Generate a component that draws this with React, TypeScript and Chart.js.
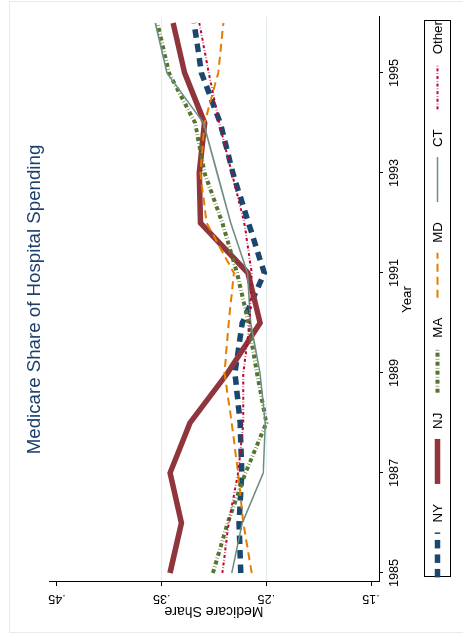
import React, { useEffect, useRef } from 'react';
import { Chart, registerables } from 'chart.js';

Chart.register(...registerables);

// ---------- data ----------
const years = [1985, 1986, 1987, 1988, 1989, 1990, 1991, 1992, 1993, 1994, 1995, 1996];
const seriesNames = ['NY', 'NJ', 'MA', 'MD', 'CT', 'Other'];
const nyShare = [0.2745, 0.276, 0.2735, 0.275, 0.28, 0.273, 0.252, 0.267, 0.282, 0.294, 0.312, 0.319];
const njShare = [0.342, 0.331, 0.342, 0.323, 0.287, 0.256, 0.2675, 0.313, 0.314, 0.309, 0.328, 0.339];
const maShare = [0.301, 0.287, 0.27, 0.25, 0.259, 0.267, 0.278, 0.292, 0.309, 0.318, 0.343, 0.354];
const mdShare = [0.264, 0.272, 0.277, 0.283, 0.29, 0.286, 0.281, 0.307, 0.313, 0.309, 0.296, 0.291];
const ctShare = [0.283, 0.273, 0.253, 0.251, 0.256, 0.265, 0.268, 0.284, 0.297, 0.31, 0.345, 0.356];
const otherShare = [0.292, 0.286, 0.277, 0.272, 0.272, 0.266, 0.264, 0.271, 0.283, 0.295, 0.305, 0.314];
const seriesValues = [nyShare, njShare, maShare, mdShare, ctShare, otherShare];

const yearTicks = [1985, 1987, 1989, 1991, 1993, 1995];
const shareTicks = [0.15, 0.25, 0.35, 0.45];
const shareTickLabels = ['.15', '.25', '.35', '.45'];
const shareGridValues = [0.25, 0.35];

const titleText = 'Medicare Share of Hospital Spending';
const xTitle = 'Year';
const yTitle = 'Medicare Share';

// ---------- styles ----------
const FONT = '"Liberation Sans", Arial, Helvetica, sans-serif';
const lineStyles = [
  { color: '#1a476f', width: 5.5, dash: [8.5, 6] },
  { color: '#90353b', width: 5.5, dash: [] as number[] },
  { color: '#55752f', width: 4, dash: [4, 2.2, 0.6, 2.2] },
  { color: '#e37e00', width: 2, dash: [8, 5] },
  { color: '#6e8e84', width: 1.6, dash: [] as number[] },
  { color: '#c10534', width: 2, dash: [3, 2, 0.6, 2] },
];

const decorPlugin = {
  id: 'decor',
  beforeDraw(chart: any) {
    const { ctx, width, height } = chart;
    ctx.save();
    ctx.fillStyle = '#ffffff';
    ctx.fillRect(0, 0, width, height);
    ctx.strokeStyle = '#e4ecef';
    ctx.lineWidth = 1;
    ctx.strokeRect(3.5, 9.5, 631, 470);
    ctx.restore();
  },
  afterDraw(chart: any) {
    const { ctx } = chart;
    const ca = chart.chartArea;
    const yScale = chart.scales.y;
    ctx.save();
    // rotated y tick labels
    ctx.font = `12.7px ${FONT}`;
    ctx.fillStyle = '#000';
    ctx.textAlign = 'center';
    ctx.textBaseline = 'alphabetic';
    shareTicks.forEach((v, i) => {
      const py = yScale.getPixelForValue(v);
      ctx.save();
      ctx.translate(ca.left - 13, py);
      ctx.rotate(-Math.PI / 2);
      ctx.fillText(shareTickLabels[i], 0, 0);
      ctx.restore();
    });

    // legend
    const boxL = ca.left + 5;
    const boxR = ca.right - 4.5;
    const boxT = ca.bottom + 45;
    const boxH = 26;
    ctx.strokeStyle = '#000';
    ctx.lineWidth = 1;
    ctx.strokeRect(Math.round(boxL) + 0.5, Math.round(boxT) + 0.5, Math.round(boxR - boxL), boxH);
    ctx.font = `13.3px ${FONT}`;
    const symW = 45;
    const symGap = 10;
    const itemGap = 20;
    const widths = seriesNames.map((n) => ctx.measureText(n).width);
    const total = widths.reduce((a, w) => a + symW + symGap + w, 0) + itemGap * (seriesNames.length - 1);
    let x = (boxL + boxR) / 2 - total / 2;
    const lineY = boxT + 13.5;
    seriesNames.forEach((name, i) => {
      const st = lineStyles[i];
      ctx.save();
      ctx.beginPath();
      ctx.strokeStyle = st.color;
      ctx.lineWidth = st.width;
      ctx.setLineDash(st.dash);
      ctx.lineCap = 'butt';
      ctx.moveTo(x, lineY);
      ctx.lineTo(x + symW, lineY);
      ctx.stroke();
      ctx.restore();
      ctx.fillStyle = '#000';
      ctx.textAlign = 'left';
      ctx.textBaseline = 'alphabetic';
      ctx.fillText(name, x + symW + symGap, boxT + 17.8);
      x += symW + symGap + widths[i] + itemGap;
    });
    ctx.restore();
  },
};

export default function App() {
  const ref = useRef<HTMLCanvasElement>(null);

  useEffect(() => {
    const canvas = ref.current;
    if (!canvas) return;
    const chart = new Chart(canvas, {
      type: 'line',
      data: {
        datasets: seriesNames.map((name, i) => ({
          label: name,
          data: years.map((yr, j) => ({ x: yr, y: seriesValues[i][j] })),
          borderColor: lineStyles[i].color,
          backgroundColor: lineStyles[i].color,
          borderWidth: lineStyles[i].width,
          borderDash: lineStyles[i].dash,
          borderCapStyle: 'butt',
          borderJoinStyle: 'miter',
          pointRadius: 0,
          pointHoverRadius: 0,
          fill: false,
          tension: 0,
          order: seriesNames.length - i,
        })),
      },
      options: {
        responsive: false,
        animation: false,
        devicePixelRatio: 1,
        events: [],
        layout: { padding: { top: 0, left: 0, right: 17, bottom: 40 } },
        plugins: {
          legend: { display: false },
          tooltip: { enabled: false },
          title: {
            display: true,
            text: titleText,
            fullSize: false,
            color: '#1c3f6e',
            font: { family: FONT, size: 18.7, weight: 'normal', lineHeight: 1.2 },
            padding: { top: 23.5, bottom: 3.06 },
          },
        },
        scales: {
          x: {
            type: 'linear',
            position: 'bottom',
            min: 1984.82,
            max: 1996.12,
            afterBuildTicks: (s: any) => {
              s.ticks = yearTicks.map((v) => ({ value: v }));
            },
            afterFit: (s: any) => {
              s.height = 44;
            },
            grid: { drawOnChartArea: false, drawTicks: true, tickLength: 4, tickColor: '#000', tickWidth: 1 },
            border: { display: true, color: '#000', width: 1 },
            ticks: {
              color: '#000',
              font: { family: FONT, size: 12.7 },
              padding: 3.4,
              minRotation: 0,
              maxRotation: 0,
              autoSkip: false,
              callback: (v: any) => String(v),
            },
            title: {
              display: true,
              text: xTitle,
              color: '#000',
              font: { family: FONT, size: 13.3 },
              padding: { top: 0, bottom: 8.1 },
            },
          },
          y: {
            type: 'linear',
            position: 'left',
            min: 0.1424,
            max: 0.4576,
            afterBuildTicks: (s: any) => {
              s.ticks = shareTicks.map((v) => ({ value: v }));
            },
            afterFit: (s: any) => {
              s.width = 54;
            },
            grid: {
              color: (c: any) =>
                c.tick && shareGridValues.some((g) => Math.abs(c.tick.value - g) < 1e-6) ? '#e2ebef' : 'rgba(0,0,0,0)',
              tickColor: '#000',
              tickLength: 4,
              drawTicks: true,
              lineWidth: 1,
            },
            border: { display: true, color: '#000', width: 1 },
            ticks: { display: false },
            title: {
              display: true,
              text: yTitle,
              color: '#000',
              font: { family: FONT, size: 14 },
              padding: { top: 16.3, bottom: 0 },
            },
          },
        },
      },
      plugins: [decorPlugin],
    } as any);
    return () => chart.destroy();
  }, []);

  return (
    <div
      style={{
        position: 'fixed',
        left: 0,
        top: 0,
        width: 463,
        height: 636,
        overflow: 'hidden',
        background: '#fff',
      }}
    >
      <div
        style={{
          position: 'absolute',
          left: 0,
          top: 0,
          width: 636,
          height: 463,
          transformOrigin: '0 0',
          transform: 'translateY(636px) rotate(-90deg)',
        }}
      >
        <canvas ref={ref} width={636} height={463} style={{ display: 'block', width: 636, height: 463 }} />
      </div>
    </div>
  );
}
